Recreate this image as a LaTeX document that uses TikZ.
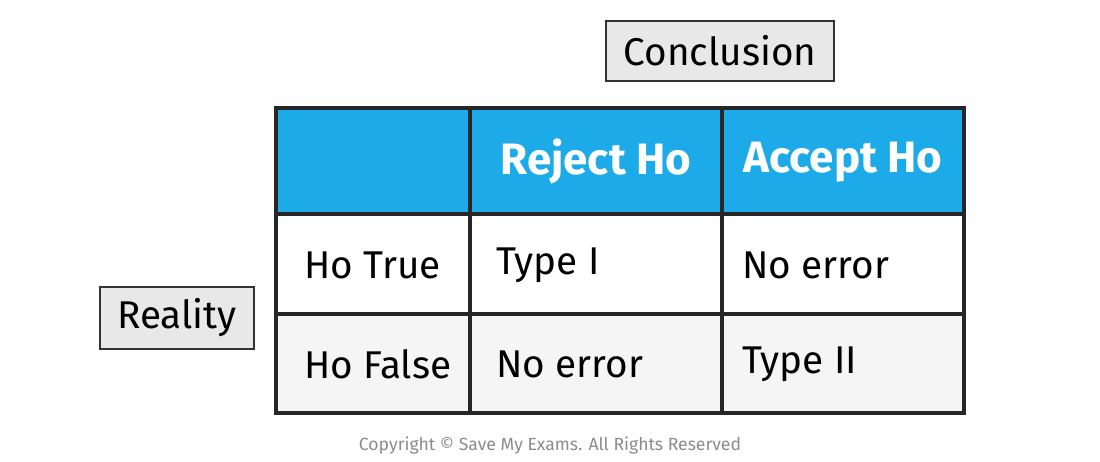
\documentclass[tikz,border=0pt]{standalone}
\usepackage{fontspec}
\setmainfont{Fira Sans}
\usetikzlibrary{positioning}
\definecolor{headblue}{HTML}{1CABE8}
\definecolor{rowgrey}{HTML}{F5F5F5}
\definecolor{boxgrey}{HTML}{E8E8E8}
\begin{document}
\begin{tikzpicture}[
    x=0.01cm, y=-0.01cm,
    grid/.style={draw=black!85, line width=1.2pt},
    tagbox/.style={draw=black!80, fill=boxgrey, line width=0.6pt,
        minimum height=0.6cm, inner xsep=5pt, font=\fontsize{11}{13}\selectfont},
    head/.style={text=white, font=\fontsize{12.5}{14}\selectfont\bfseries},
    cell/.style={anchor=west, font=\fontsize{11}{13}\selectfont},
    ]
    \useasboundingbox (0,0) rectangle (1100,462);
    % header and rows
    \fill[headblue] (276,108) rectangle (964,214);
    \fill[white] (276,214) rectangle (964,314);
    \fill[rowgrey] (276,314) rectangle (964,413);
    \draw[grid] (276,108) rectangle (964,413);
    \draw[grid] (276,214) -- (964,214);
    \draw[grid] (276,314) -- (964,314);
    \draw[grid] (470,108) -- (470,413);
    \draw[grid] (722,108) -- (722,413);
    % labels
    \node[tagbox, minimum width=1.94cm] (concl) at (720,51) {Conclusion};
    \node[tagbox, minimum width=1.42cm] (real) at (177,318) {Reality};
    \node[head] (rej) at (596,162) {Reject Ho};
    \node[head] (acc) at (843,162) {Accept Ho};
    \node[cell] (htrue) at (292,265) {Ho True};
    \node[cell] (hfalse) at (292,364) {Ho False};
    \node[cell] (t1) at (484,265) {Type I};
    \node[cell] (ne1) at (730,265) {No error};
    \node[cell] (ne2) at (484,364) {No error};
    \node[cell] (t2) at (730,364) {Type II};
    \node[text=black!45, font=\fontsize{5}{6}\selectfont] (copy) at (550,446)
        {Copyright \textcopyright{} Save My Exams. All Rights Reserved};
\end{tikzpicture}
\end{document}
